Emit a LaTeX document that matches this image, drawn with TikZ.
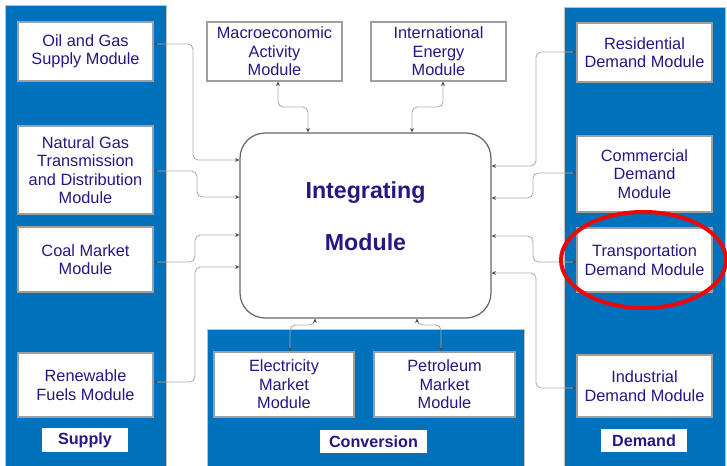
\documentclass[tikz,border=0pt]{standalone}
\usepackage{fontspec}
\setmainfont{Liberation Sans}
\usetikzlibrary{arrows.meta}
\definecolor{panelblue}{RGB}{0,114,188}
\definecolor{modtext}{RGB}{40,22,130}
\definecolor{ringred}{RGB}{232,10,10}
\tikzset{
	module/.style={draw=gray!75,line width=0.6pt,fill=white,align=center,text=modtext,inner sep=1pt,minimum width=2.7cm,font=\fontsize{9.3}{10.5}\selectfont},
	tag/.style={fill=white,text=modtext,inner sep=0pt,minimum height=0.47cm,font=\fontsize{9.2}{10}\selectfont\bfseries},
	hub/.style={draw=gray!80!black,line width=0.7pt,fill=white,rounded corners=0.5cm,minimum width=5.02cm,minimum height=3.7cm},
	hubtext/.style={align=center,text=modtext,font=\fontsize{13.2}{29.5}\selectfont\bfseries},
	link/.style={draw=gray!65,line width=0.5pt,rounded corners=3pt,arrows={Stealth[length=2.5pt,width=2.2pt,color=black!70]-Stealth[length=2.5pt,width=2.2pt,color=black!70]}},
	panel/.style={fill=panelblue,draw=gray!50,line width=0.4pt}
}
\begin{document}
\begin{tikzpicture}[x=0.02cm,y=-0.02cm]
	\useasboundingbox (0,0) rectangle (727,466);
	\path[panel] (5,5) rectangle (166,467);
	\path[panel] (564,7) rectangle (725,467);
	\path[panel] (207,329) rectangle (524,467);
	\node (oil) at(85.5,51.5) [module,minimum height=1.18cm]{Oil and Gas\\Supply Module};
	\node (ngas) at(85.5,170) [module,minimum height=1.76cm]{Natural Gas\\Transmission\\and Distribution\\Module};
	\node (coal) at(85.5,259.5) [module,minimum height=1.3cm]{Coal Market\\Module};
	\node (renew) at(85.5,385) [module,minimum height=1.28cm]{Renewable\\Fuels Module};
	\node (supply) at(85,440) [tag,minimum width=1.72cm]{Supply};
	\node (macro) at(274.5,51.5) [module,minimum height=1.18cm]{Macroeconomic\\Activity\\Module};
	\node (intl) at(438.5,51.5) [module,minimum height=1.18cm]{International\\Energy\\Module};
	\node (integ) at(365.5,225.5) [hub]{};
	\node (integtxt) at(365.5,216) [hubtext]{Integrating\\Module};
	\node (elec) at(284,384.5) [module,minimum width=2.8cm,minimum height=1.3cm]{Electricity\\Market\\Module};
	\node (petro) at(444.5,384.5) [module,minimum width=2.82cm,minimum height=1.3cm]{Petroleum\\Market\\Module};
	\node (conv) at(373.5,441.5) [tag,minimum width=2.14cm]{Conversion};
	\node (resid) at(644.5,52.5) [module,minimum height=1.18cm]{Residential\\Demand Module};
	\node (comm) at(644.5,174) [module,minimum height=1.52cm]{Commercial\\Demand\\Module};
	\node (trans) at(644.5,260) [module,minimum height=1.28cm]{Transportation\\Demand Module};
	\node (indus) at(644.5,386) [module,minimum height=1.24cm]{Industrial\\Demand Module};
	\node (demand) at(644,440.5) [tag,minimum width=1.72cm]{Demand};
	\draw[link] (oil.east |- 0,44) -- (193,44) -- (193,160) -- (integ.west |- 0,160);
	\draw[link] (ngas.east |- 0,171) -- (197,171) -- (197,197) -- (integ.west |- 0,197);
	\draw[link] (coal.east |- 0,262) -- (195,262) -- (195,235) -- (integ.west |- 0,235);
	\draw[link] (renew.east |- 0,382) -- (195,382) -- (195,267) -- (integ.west |- 0,267);
	\draw[link] (macro.south -| 278,0) -- (278,107) -- (308,107) -- (integ.north -| 308,0);
	\draw[link] (intl.south -| 443,0) -- (443,107) -- (412,107) -- (integ.north -| 412,0);
	\draw[link] (integ.east |- 0,166) -- (536,166) -- (536,52) -- (resid.west |- 0,52);
	\draw[link] (integ.east |- 0,198) -- (533,198) -- (533,173) -- (comm.west |- 0,173);
	\draw[link] (integ.east |- 0,236) -- (533,236) -- (533,262) -- (trans.west |- 0,262);
	\draw[link] (integ.east |- 0,273) -- (536,273) -- (536,388) -- (indus.west |- 0,388);
	\draw[link] (integ.south -| 315,0) -- (315,325) -- (290,325) -- (elec.north -| 290,0);
	\draw[link] (integ.south -| 417,0) -- (417,325) -- (441,325) -- (petro.north -| 441,0);
	\draw[ringred,line width=2.3pt] (643.5,260) ellipse [x radius=1.65cm,y radius=0.96cm];
\end{tikzpicture}
\end{document}
